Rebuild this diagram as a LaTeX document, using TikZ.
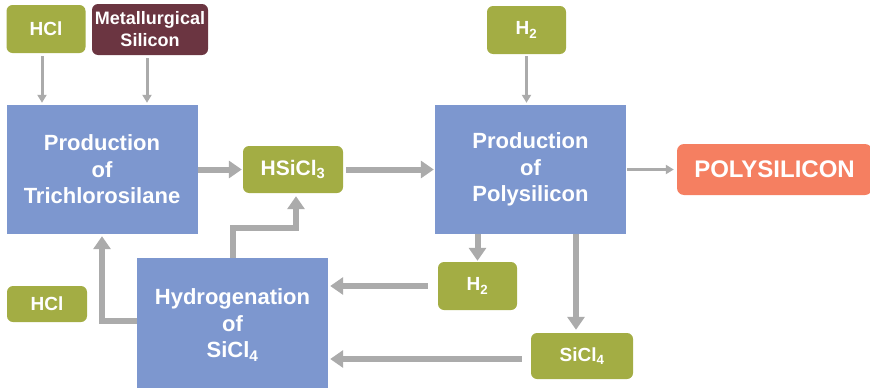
\documentclass[tikz,border=0pt]{standalone}
\usepackage{fontspec}
\setmainfont{Liberation Sans}
\usetikzlibrary{positioning,arrows.meta,calc}
\definecolor{ProcBlue}{RGB}{125,151,207}
\definecolor{FeedOlive}{RGB}{163,173,68}
\definecolor{RawMaroon}{RGB}{107,53,65}
\definecolor{OutSalmon}{RGB}{245,127,97}
\definecolor{FlowGray}{RGB}{171,171,171}

\begin{document}
\begin{tikzpicture}[
  x=1pt, y=-1pt,
  box/.style={text=white, align=center, inner sep=0pt},
  unit/.style={box, fill=ProcBlue, minimum width=191pt, minimum height=129pt,
               font=\fontsize{22}{26.5}\selectfont\bfseries},
  feed/.style={box, fill=FeedOlive, rounded corners=6pt, minimum width=79pt, minimum height=48pt,
               font=\fontsize{19}{22}\selectfont\bfseries},
  rawin/.style={box, fill=RawMaroon, rounded corners=6pt, minimum width=116pt, minimum height=51pt,
               font=\fontsize{18}{22}\selectfont\bfseries},
  product/.style={box, fill=OutSalmon, rounded corners=7pt, minimum width=195pt, minimum height=51pt,
               font=\fontsize{24}{28}\selectfont\bfseries},
  flow/.style={-{Triangle[length=13pt,width=17pt]}, line width=6pt, FlowGray},      % main stream
  feedline/.style={-{Triangle[length=8pt,width=9pt]}, line width=3pt, FlowGray},    % side feed
]
\useasboundingbox (0,0) rectangle (870,388);

% ============ feeds (top) ============
\node[feed]  (hcltop) at (46,29) {HCl};
\node[rawin] (metsi)  at (150,29.5) {Metallurgical\\Silicon};
\node[feed]  (h2top)  at (526.5,30) {H\textsubscript{2}};

% ============ process units ============
\node[unit] (trichl)   at (102,169.5) {Production\\of\\Trichlorosilane};
\node[unit] (polyprod) at (530.5,169.5) {Production\\of\\Polysilicon};
\node[unit, minimum height=134pt] (hydro) at (232.5,325) {Hydrogenation\\of\\SiCl\textsubscript{4}};

% ============ intermediates / product ============
\node[feed, minimum width=100pt, minimum height=47pt, font=\fontsize{21}{24}\selectfont\bfseries]
     (hsicl) at (293,169.5) {HSiCl\textsubscript{3}};
\node[product] (polyout) at (774.5,169.5) {POLYSILICON};
\node[feed, minimum width=80pt, minimum height=36pt] (hclbot) at (47,304) {HCl};
\node[feed] (h2bot) at (477.5,286) {H\textsubscript{2}};
\node[feed, minimum width=102pt, minimum height=46pt] (sicl4) at (582,356) {SiCl\textsubscript{4}};

% ---- side feeds ----
\draw[feedline, shorten <=3pt, shorten >=2pt] ([xshift=-4pt]hcltop.south) -- ([xshift=-4pt]hcltop.south |- trichl.north);
\draw[feedline, shorten <=3pt, shorten >=2pt] ([xshift=-3pt]metsi.south) -- ([xshift=-3pt]metsi.south |- trichl.north);
\draw[feedline, shorten <=2pt, shorten >=2pt] (h2top.south) -- (h2top.south |- polyprod.north);
\draw[feedline, shorten <=1pt, shorten >=3pt] (polyprod.east) -- (polyout.west);

% ---- main stream ----
\draw[flow, shorten >=1pt] (trichl.east) -- (hsicl.west);
\draw[flow, shorten <=3pt, shorten >=1pt] (hsicl.east) -- (polyprod.west);
\draw[flow, shorten >=1pt] (polyprod.south -| h2bot.north) -- (h2bot.north);
\draw[flow, shorten >=3pt] ([xshift=-6pt]sicl4.north |- polyprod.south) -- ([xshift=-6pt]sicl4.north);

% ---- recycle loops ----
\coordinate (siclout) at ([yshift=-3pt]sicl4.west);
\draw[flow, shorten <=10pt, shorten >=2pt] (h2bot.west) -- (hydro.east |- h2bot.west);
\draw[flow, shorten <=9pt, shorten >=2pt] (siclout) -- (hydro.east |- siclout);
\draw[flow, shorten >=3pt] (hydro.north) -- ++(0,-30) -| ([xshift=3pt]hsicl.south);
\draw[flow, shorten >=2pt] ([yshift=4pt]hydro.west) -| (trichl.south);

\end{tikzpicture}
\end{document}
